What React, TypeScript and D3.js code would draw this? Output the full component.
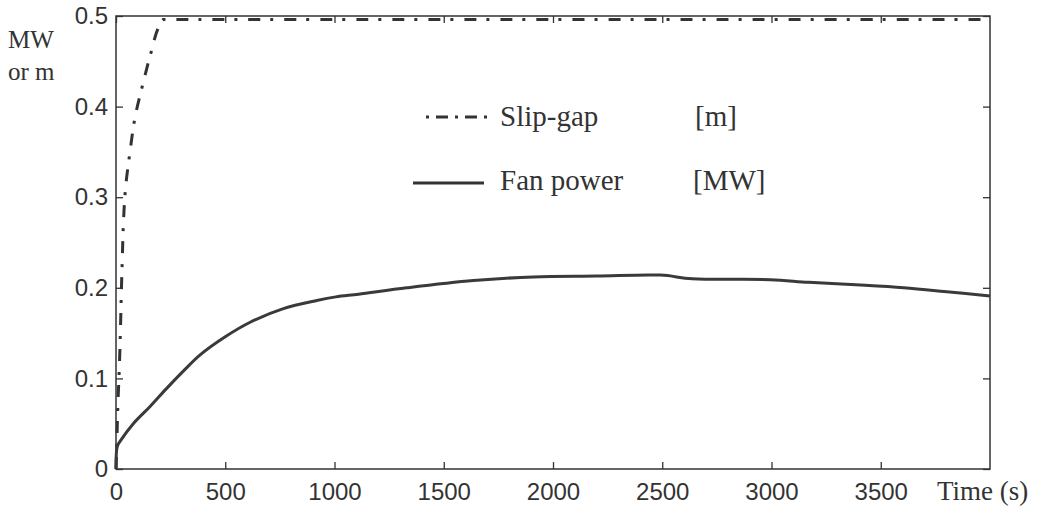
import React, { useRef, useEffect } from "react";
import * as d3 from "d3";

// time (s) and slip-gap (m)
const slipTime = [0, 3, 6, 10, 15, 20, 25, 29, 34, 44, 64, 87, 124, 163, 200, 215, 4000];
const slipGap = [0, 0.02, 0.05, 0.08, 0.11, 0.15, 0.2, 0.233, 0.272, 0.311, 0.35, 0.388, 0.426, 0.462, 0.49, 0.496, 0.496];

// time (s) and fan power (MW)
const fanTime = [0, 6, 20, 79, 156, 232, 308, 385, 500, 614, 766, 919, 1006, 1110, 1331, 1636, 1911, 2200, 2492, 2637, 2995, 3170, 3408, 3605, 3789, 4000];
const fanPower = [0, 0.025, 0.031, 0.05, 0.069, 0.089, 0.108, 0.126, 0.146, 0.162, 0.177, 0.186, 0.19, 0.193, 0.2, 0.208, 0.212, 0.213, 0.214, 0.21, 0.209, 0.206, 0.203, 0.2, 0.196, 0.191];

const xTicks = [0, 500, 1000, 1500, 2000, 2500, 3000, 3500];
const yTicks = [0, 0.1, 0.2, 0.3, 0.4, 0.5];

const W = 1044;
const H = 514;
const left = 116;
const right = 990;
const top = 16;
const bottom = 469;
const ink = "#333";

const App = () => {
	const svgRef = useRef(null);

	useEffect(() => {
		const svg = d3.select(svgRef.current);
		svg.selectAll("*").remove();

		const x = d3.scaleLinear().domain([0, 4000]).range([left, right]);
		const y = d3.scaleLinear().domain([0, 0.5]).range([bottom, top]);

		// frame
		svg.append("rect")
			.attr("x", left).attr("y", top)
			.attr("width", right - left).attr("height", bottom - top)
			.attr("fill", "none").attr("stroke", ink).attr("stroke-width", 1.5);

		const tickFont = (g) => g.selectAll("text")
			.attr("font-family", "'Liberation Sans', Arial, sans-serif")
			.attr("font-size", 24).attr("fill", ink);
		const tickStyle = (g) => {
			g.select(".domain").remove();
			g.selectAll("line").attr("stroke", ink).attr("stroke-width", 1.3);
		};

		svg.append("g")
			.attr("transform", `translate(0, ${bottom})`)
			.call(d3.axisBottom(x).tickValues(xTicks).tickSize(-7).tickPadding(14).tickFormat(d3.format("d")))
			.call(tickStyle).call(tickFont);
		svg.append("g")
			.attr("transform", `translate(0, ${top})`)
			.call(d3.axisTop(x).tickValues(xTicks).tickSize(-7).tickFormat(() => ""))
			.call(tickStyle);
		svg.append("g")
			.attr("transform", `translate(${left}, 0)`)
			.call(d3.axisLeft(y).tickValues(yTicks).tickSize(-7).tickPadding(8).tickFormat(d3.format("")))
			.call(tickStyle).call(tickFont);
		svg.append("g")
			.attr("transform", `translate(${right}, 0)`)
			.call(d3.axisRight(y).tickValues(yTicks).tickSize(-7).tickFormat(() => ""))
			.call(tickStyle);

		svg.append("path")
			.datum(slipTime.map((t, i) => [t, slipGap[i]]))
			.attr("d", d3.line().x(d => x(d[0])).y(d => y(d[1])).curve(d3.curveMonotoneY))
			.attr("fill", "none").attr("stroke", ink).attr("stroke-width", 3)
			.attr("stroke-dasharray", "12,10,3,11");

		svg.append("path")
			.datum(fanTime.map((t, i) => [t, fanPower[i]]))
			.attr("d", d3.line().x(d => x(d[0])).y(d => y(d[1])).curve(d3.curveCatmullRom))
			.attr("fill", "none").attr("stroke", "#3a3a3a").attr("stroke-width", 3);

		// legend
		svg.append("line").attr("x1", 426).attr("x2", 490).attr("y1", 117).attr("y2", 117)
			.attr("stroke", ink).attr("stroke-width", 3).attr("stroke-dasharray", "3,7,12,7");
		svg.append("line").attr("x1", 413).attr("x2", 484).attr("y1", 183).attr("y2", 183)
			.attr("stroke", ink).attr("stroke-width", 3);

		const serif = "'Liberation Serif', 'Times New Roman', serif";
		const txt = (s, tx, ty, size) => svg.append("text")
			.attr("x", tx).attr("y", ty).text(s)
			.attr("font-family", serif).attr("font-size", size).attr("fill", ink);
		txt("Slip-gap", 500, 126, 29);
		txt("[m]", 695, 126, 29);
		txt("Fan power", 500, 190, 29);
		txt("[MW]", 693, 190, 29);
		txt("Time (s)", 937, 500, 27);
		txt("MW", 8, 48, 25);
		txt("or m", 8, 80, 25);
	}, []);

	return (
		<svg ref={svgRef} width={W} height={H}
			style={{ position: "absolute", left: 0, top: 0, background: "#fff" }} />
	);
};

export default App;
